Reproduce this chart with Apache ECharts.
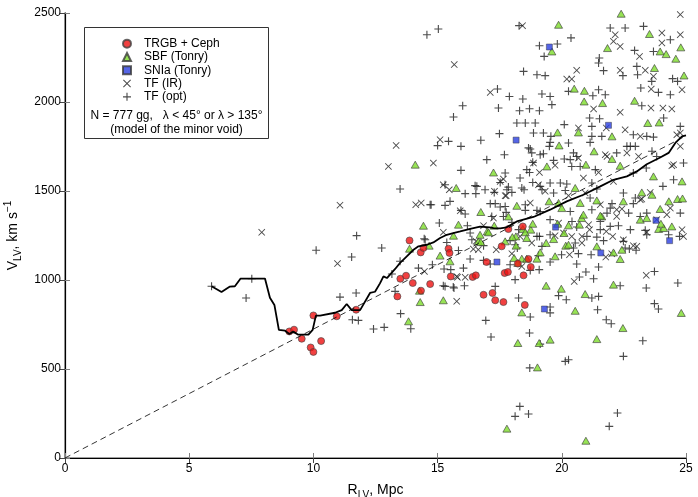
<!DOCTYPE html>
<html><head><meta charset="utf-8">
<script src="https://cdn.jsdelivr.net/npm/echarts/dist/echarts.min.js"></script>
<style>html,body{margin:0;padding:0;background:#fff}#c{width:698px;height:497px}</style>
</head><body><div id="c"></div>
<script>
// ---- data (R_LV Mpc, V_LV km/s) ----
const xTicks = [0, 5, 10, 15, 20, 25];
const yTicks = [0, 500, 1000, 1500, 2000, 2500];
const seriesNames = ['TRGB + Ceph', 'SBF (Tonry)', 'SNIa (Tonry)', 'TF (IR)', 'TF (opt)'];

const trgbCeph = [
[9.03,711],[9.22,721],[9.53,670],[9.89,621],[10.0,596],[10.31,657],[10.0,801],[10.94,796],[11.72,833],
[13.87,1222],[14.32,1155],[14.43,1180],[13.5,1007],[13.73,1024],[14.0,983],[14.7,977],[14.33,940],[13.38,908],
[15.44,1176],[15.48,1152],[15.53,1020],[16.41,1017],[16.54,1026],[16.97,1101],[17.58,1189],[17.7,1039],[17.83,1045],
[18.46,1026],[18.23,1092],[18.66,1118],[18.75,1073],[16.85,917],[17.21,927],[17.32,886],[17.65,876],[18.51,860],
[18.43,1301],[17.85,1286]
];

const sbf = [
[13.87,1176],[14.66,1193],[15.1,1137],[15.5,1105],[15.64,1249],[14.27,940],[14.3,876],[15.23,886],[13.83,768],
[15.75,1517],[14.43,1305],[16.74,1382],[15.84,1311],[16.64,1217],[17.0,1273],[17.28,1305],[17.85,1357],[18.19,1417],
[17.72,1217],[18.15,1245],[18.43,1287],[18.08,1124],[18.39,1120],[18.59,1120],[18.23,1096],[18.39,818],[16.74,1213],
[16.71,1254],[17.05,1268],[18.01,1241],[18.16,1193],[19.0,1120],[19.13,1155],[19.37,1208],[19.73,1133],[20.16,1193],
[20.09,1264],[21.41,1189],[22.08,1155],[22.35,1118],[22.42,1170],[22.08,974],[19.37,968],[19.98,951],[20.94,921],
[20.54,827],[18.23,646],[19.09,646],[19.53,665],[21.41,668],[22.46,730],[24.81,815],[19.02,509],[17.79,165],[20.97,97],
[22.39,2496],[19.87,2434],[19.6,2284],[23.53,2382],[21.84,2303],[23.96,2284],[24.2,2269],[24.59,2243],[24.79,2307],
[23.73,2191],[24.92,2149],[20.5,2075],[20.91,2063],[20.9,2003],[21.64,1994],[22.93,2007],[23.46,1882],[23.92,1885],
[19.83,1829],[20.67,1829],[22.02,1807],[19.89,1756],[21.3,1723],[22.02,1680],[20.97,1648],[19.4,1638],[22.35,1642],
[17.25,1604],[23.69,1582],[24.84,1554],[20.54,1517],[23.22,1492],[23.63,1479],[24.31,1442],[24.66,1455],[19.49,1442],
[19.87,1433],[20.74,1433],[22.48,1442],[20.0,1404],[20.8,1348],[21.61,1357],[23.16,1339],[23.42,1348],[23.96,1399],
[23.9,1287],[24.1,1292],[24.43,1301],[23.99,1316],[18.75,1283],[18.83,1316],[19.83,1316],[20.71,1311],[24.86,1458],
[21.41,1447],[18.53,1268],[20.87,1367],[21.55,1361],[20.27,1307],[18.59,1236],[20.27,1198],[19.67,1230],[14.1,1648]
];

const snia = [
[17.39,1101],[19.3,837],[21.57,1152],[24.34,1221],[19.5,2309],[18.16,1786],[21.88,1869],[23.79,1335],[19.75,1297]
];

const tfIR = [
[7.92,1268],[10.97,1092],[11.07,1420],[13.33,1756],[13.02,1638],[14.83,1657],[15.1,1788],[14.12,1423],[14.34,1433],
[15.23,1535],[15.23,1268],[14.47,1048],[15.77,880],[15.77,1020],[15.47,1507],[17.29,1498],[17.76,1474],[15.91,1389],
[17.25,1348],[16.85,1305],[16.55,1217],[16.64,1170],[17.36,1170],[16.44,1174],[18.39,1076],[15.8,1015],[16.11,1015],
[23.4,1026],[20.5,992],[20.31,1142],[21.77,1129],[22.88,1193],[22.05,1245],[23.42,1268],[20.81,1245],[18.42,2429],
[15.67,2210],[22.15,2378],[22.08,2341],[22.35,2312],[24.03,2388],[24.77,2378],[24.77,2491],[24.03,2332],[23.13,2256],
[22.35,2178],[23.36,2178],[23.69,2144],[24.84,2069],[23.6,2073],[20.6,2178],[20.2,2129],[20.4,2129],[17.12,2054],
[21.28,1961],[22.35,1942],[23.59,1966],[24.07,1966],[24.43,1961],[21.79,1854],[22.55,1844],[23.16,1807],[24.63,1816],
[20.67,1854],[18.86,1657],[19.1,1604],[19.73,1644],[21.75,1704],[23.09,1694],[24.5,1648],[20.87,1573],[17.52,1554],
[17.72,1474],[19.06,1535],[22.08,1554],[23.22,1455],[23.56,1492],[18.73,1433],[22.42,1399],[24.37,1404],[24.84,1283],
[19.33,1498],[20.27,1474],[20.94,1489],[21.55,1423],[22.21,1395],[22.21,1357],[23.16,1451],[23.82,1339],[24.23,1367],
[23.02,1189],[21.08,1311],[20.4,1245],[19.87,1320],[17.65,1567],[20.67,1685],[21.48,1604],[21.82,1694],[22.62,1714],
[24.43,1642],[24.77,1751],[24.77,1826],[18.32,1245],[18.79,1208],[19.73,1249],[20.07,1264],[20.81,1208],[21.12,1283],
[21.79,1273],[22.48,1226],[24.9,1245],[22.01,1148],[17.99,1148]
];

const tfOpt = [
[5.9,965],[7.52,1007],[7.29,899],[10.11,1167],[11.74,1249],[11.54,1129],[11.07,904],[11.72,927],[11.57,777],[11.81,773],
[12.42,725],[15.03,2410],[14.57,2378],[13.49,1511],[15.0,1755],[15.44,1779],[14.7,1423],[15.3,1419],[15.07,1320],
[14.46,1232],[12.75,1180],[14.5,1226],[13.49,1105],[13.16,1034],[14.23,1067],[14.79,1086],[15.26,1062],[13.29,936],
[13.51,811],[12.85,734],[13.92,726],[15.23,968],[15.63,961],[15.37,1211],[16.11,1485],[16.54,1485],[16.58,1526],
[16.91,1507],[17.79,1507],[18.39,1517],[17.52,1548],[14.74,1423],[16.11,1371],[17.32,1429],[17.76,1380],[16.2,1305],
[16.31,1264],[16.38,1226],[15.84,1166],[16.31,1118],[16.85,1110],[17.92,1086],[18.12,1002],[16.04,1067],[15.53,1058],
[15.3,964],[15.66,955],[16.08,968],[17.32,964],[16.85,1193],[17.12,1090],[18.73,1054],[19.09,1058],[18.26,899],
[16.94,773],[17.15,680],[18.73,792],[18.7,702],[19.13,640],[19.53,848],[19.53,815],[18.71,506],[18.31,290],[18.12,234],
[18.66,247],[20.14,543],[20.27,552],[22.48,571],[22.24,253],[21.91,178],[23.26,659],[21.44,833],[21.79,777],[21.99,754],
[21.48,908],[21.21,899],[19.87,912],[20.18,889],[23.73,867],[23.89,837],[23.4,955],[24.67,983],[23.73,1048],[20.71,1017],
[21.28,1007],[21.48,1073],[20.6,1090],[20.97,1045],[22.35,968],[19.53,1101],[19.99,1142],[21.18,1142],[20.67,1148],
[22.48,1217],[22.72,1174],[22.99,1167],[21.68,1221],[24.3,1254],[24.74,1245],[20.54,1208],[20.47,1180],[19.2,1189],
[19.53,1254],[17.92,1221],[18.21,1180],[21.01,1245],[21.41,1241],[18.28,2429],[19.1,2316],[19.29,2256],[19.82,2326],
[20.37,2360],[21.95,2416],[22.55,2416],[23.29,2425],[24.37,2350],[23.69,2284],[22.93,2290],[21.51,2247],[21.48,2219],
[21.68,2176],[23.02,2200],[22.46,2148],[23.05,2153],[23.62,2116],[24.46,2131],[24.66,2116],[23.18,2079],[23.89,2054],
[24.37,2041],[20.27,2060],[21.48,2069],[21.25,2035],[21.75,2041],[18.46,2172],[19.0,2153],[19.33,2148],[17.41,2073],
[17.89,2031],[18.43,2017],[19.2,2045],[19.53,2031],[16.01,1979],[15.64,1916],[17.45,1966],[18.3,1951],[18.7,1962],
[19.1,1951],[19.6,1985],[23.22,1979],[24.1,1910],[24.77,1863],[21.12,1910],[21.52,1906],[21.21,1863],[22.88,1816],
[23.42,1807],[23.69,1803],[20.1,1873],[21.61,1807],[21.21,1807],[15.94,1751],[16.74,1785],[17.49,1822],[18.19,1882],
[18.53,1882],[18.93,1882],[19.56,1807],[19.5,1751],[18.73,1736],[18.79,1714],[19.13,1704],[18.7,1604],[19.67,1672],
[20.1,1680],[20.34,1676],[20.4,1638],[20.6,1694],[22.21,1714],[22.62,1751],[22.96,1751],[23.63,1723],[23.4,1629],
[22.88,1601],[24.9,1657],[24.5,1563],[20.74,1638],[21.35,1620],[16.98,1676],[15.94,1616],[15.3,1535],[16.51,1530],
[17.28,1492],[17.99,1492],[18.32,1573],[18.48,1507],[18.83,1548],[19.2,1507],[19.53,1545],[19.67,1489],[20.2,1539],
[21.21,1545],[21.41,1511],[22.48,1489],[22.96,1461],[24.07,1526],[24.77,1376],[15.5,1442],[15.94,1391],[17.12,1429],
[17.52,1410],[18.53,1423],[19.0,1391],[20.34,1385],[21.21,1395],[22.02,1429],[23.16,1357],[22.88,1429],[17.18,1357],
[17.99,1324],[18.26,1283],[19.0,1245],[19.53,1339],[20.41,1329],[21.55,1329],[22.28,1305],[23.42,1376],[23.36,1279],
[17.72,1601],[19.13,1526],[19.94,1545],[20.14,1503],[21.14,1461],[21.95,1404],[21.82,1376],[22.69,1376],[23.42,1254],
[22.55,1180],[21.95,1301],[21.55,1283],[20.6,1298],[19.13,1385],[18.53,1391],[17.72,1413],[17.85,1522],[18.59,1620],
[18.83,1661],[17.69,1704],[18.66,1742],[19.26,1709],[19.53,1773],[20.27,1770],[20.47,1714],[21.14,1773],[22.76,1751],
[23.82,1694],[18.86,1826],[19.26,1826],[17.65,1357],[18.12,1198],[19.1,1245],[22.76,1283],[19.06,1137]
];

// running mean (solid curve)
const meanLine = [
[5.9,965],[6.3,933],[6.64,963],[6.84,965],[7.07,1008],[8.05,1008],[8.25,900],[8.43,860],[8.61,720],[8.86,715],
[9.03,697],[9.19,710],[9.39,693],[9.8,693],[9.97,720],[10.1,800],[10.27,800],[10.87,816],[11.14,831],[11.34,865],
[11.54,831],[11.88,831],[12.28,927],[12.48,934],[12.68,981],[12.82,1020],[12.96,1011],[13.29,1062],[13.49,1096],
[13.76,1133],[14.03,1170],[14.23,1189],[14.57,1198],[14.83,1211],[15.1,1236],[15.37,1254],[15.63,1264],[15.91,1273],
[16.31,1287],[16.71,1300],[17.1,1296],[17.25,1292],[17.52,1290],[17.78,1296],[18.19,1329],[18.86,1354],[19.53,1395],
[20.2,1442],[20.87,1479],[21.55,1526],[22.08,1563],[22.62,1582],[23.02,1610],[23.42,1650],[23.96,1688],[24.3,1714],
[24.57,1770],[24.84,1807],[25.0,1812]
];

// Hubble line V = H0 * R (dashed)
const hubbleLine = [[0, 0], [25, 1810]];

// ---- chart ----
const FONT = 'Liberation Sans, Arial, sans-serif';
const plusPath = 'path://M4.3,0H5.7V4.3H10V5.7H5.7V10H4.3V5.7H0V4.3H4.3Z';
const crossPath = 'path://M0.9,0L5,4.1L9.1,0L10,0.9L5.9,5L10,9.1L9.1,10L5,5.9L0.9,10L0,9.1L4.1,5L0,0.9Z';

const chart = echarts.init(document.getElementById('c'), null, {renderer: 'canvas'});

const plainLabel = v => String(v);

chart.setOption({
  animation: false,
  backgroundColor: '#fff',
  textStyle: {fontFamily: FONT},
  grid: {left: 65, right: 12, top: 13, bottom: 39, containLabel: false, outerBoundsMode: 'none'},
  xAxis: [
    {
      type: 'value', splitLine: {show: false},
      min: xTicks[0], max: xTicks[xTicks.length - 1], interval: 5, position: 'bottom',
      axisLine: {lineStyle: {color: '#808080', width: 1.5}},
      axisTick: {inside: true, length: 5, lineStyle: {color: '#808080'}},
      axisLabel: {color: '#000', fontSize: 12, margin: 5, fontFamily: FONT, formatter: plainLabel},
      name: '{a|R}{b|LV}{a|, Mpc}', nameLocation: 'middle', nameGap: 15,
      nameTextStyle: {rich: {
        a: {fontSize: 14, lineHeight: 20, color: '#000', fontFamily: FONT, verticalAlign: 'middle'},
        b: {fontSize: 10, lineHeight: 10, padding: [10, 0, 0, 0], color: '#000', fontFamily: FONT, verticalAlign: 'middle'}
      }}
    },
    {
      type: 'value', splitLine: {show: false},
      min: xTicks[0], max: xTicks[xTicks.length - 1], interval: 5, position: 'top',
      axisLine: {lineStyle: {color: '#000', width: 1.2}},
      axisTick: {inside: true, length: 5, lineStyle: {color: '#444'}},
      axisLabel: {show: false}
    }
  ],
  yAxis: [
    {
      type: 'value', splitLine: {show: false},
      min: yTicks[0], max: yTicks[yTicks.length - 1], interval: 500, position: 'left',
      axisLine: {lineStyle: {color: '#808080', width: 1.5}},
      axisTick: {inside: true, length: 5, lineStyle: {color: '#808080'}},
      axisLabel: {color: '#000', fontSize: 12, margin: 4, fontFamily: FONT, formatter: plainLabel},
      name: '{a|V}{b|LV}{a|, km s}{c|−1}', nameLocation: 'middle', nameGap: 40, nameRotate: 90,
      nameTextStyle: {rich: {
        a: {fontSize: 14, lineHeight: 20, color: '#000', fontFamily: FONT, verticalAlign: 'middle'},
        b: {fontSize: 10, lineHeight: 10, padding: [10, 0, 0, 0], color: '#000', fontFamily: FONT, verticalAlign: 'middle'},
        c: {fontSize: 10, lineHeight: 10, padding: [0, 0, 10, 0], color: '#000', fontFamily: FONT, verticalAlign: 'middle'}
      }}
    },
    {
      type: 'value', splitLine: {show: false},
      min: yTicks[0], max: yTicks[yTicks.length - 1], interval: 500, position: 'right',
      axisLine: {lineStyle: {color: '#000', width: 1.2}},
      axisTick: {inside: true, length: 5, lineStyle: {color: '#444'}},
      axisLabel: {show: false}
    }
  ],
  legend: {
    orient: 'vertical', left: 117, top: 32, itemGap: 0, itemWidth: 8, itemHeight: 8,
    data: seriesNames,
    textStyle: {fontSize: 12, color: '#000', fontFamily: FONT, lineHeight: 13.3, padding: [0, 0, 0, 8]},
    selectedMode: false
  },
  graphic: [
    {type: 'rect', left: 84, top: 27, shape: {width: 184, height: 111},
     style: {fill: 'rgba(0,0,0,0)', stroke: '#333', lineWidth: 1}, z: 1, silent: true},
    {type: 'text', x: 176.5, y: 116, silent: true, z: 2,
     style: {text: 'N = 777 gg,   λ < 45° or λ > 135°', fill: '#000', font: '12px ' + FONT, textAlign: 'center', textVerticalAlign: 'middle'}},
    {type: 'text', x: 176.5, y: 130, silent: true, z: 2,
     style: {text: '(model of the minor void)', fill: '#000', font: '12px ' + FONT, textAlign: 'center', textVerticalAlign: 'middle'}}
  ],
  series: [
    {name: seriesNames[4], type: 'scatter', data: tfOpt, symbol: plusPath, symbolSize: 8,
     itemStyle: {color: '#1e1e1e'}, z: 2},
    {name: seriesNames[3], type: 'scatter', data: tfIR, symbol: crossPath, symbolSize: 7,
     itemStyle: {color: '#1e1e1e'}, z: 2},
    {name: seriesNames[1], type: 'scatter', data: sbf, symbol: 'triangle', symbolSize: [8, 7],
     itemStyle: {color: '#7ddc2a', borderColor: '#3a3a3a', borderWidth: 0.8}, z: 3},
    {name: seriesNames[2], type: 'scatter', data: snia, symbol: 'rect', symbolSize: 6,
     itemStyle: {color: '#2a3fe0', borderColor: '#3a3a3a', borderWidth: 0.6}, z: 3},
    {name: seriesNames[0], type: 'scatter', data: trgbCeph, symbol: 'circle', symbolSize: 7,
     itemStyle: {color: '#ee1111', borderColor: '#444', borderWidth: 0.8}, z: 4},
    {name: 'hubble', type: 'line', data: hubbleLine, symbol: 'none', silent: true,
     lineStyle: {color: '#000', width: 0.8, type: [6, 4]}, z: 5},
    {name: 'mean', type: 'line', data: meanLine, symbol: 'none', silent: true,
     lineStyle: {color: '#000', width: 1.8}, z: 6}
  ]
});
</script>
</body></html>
